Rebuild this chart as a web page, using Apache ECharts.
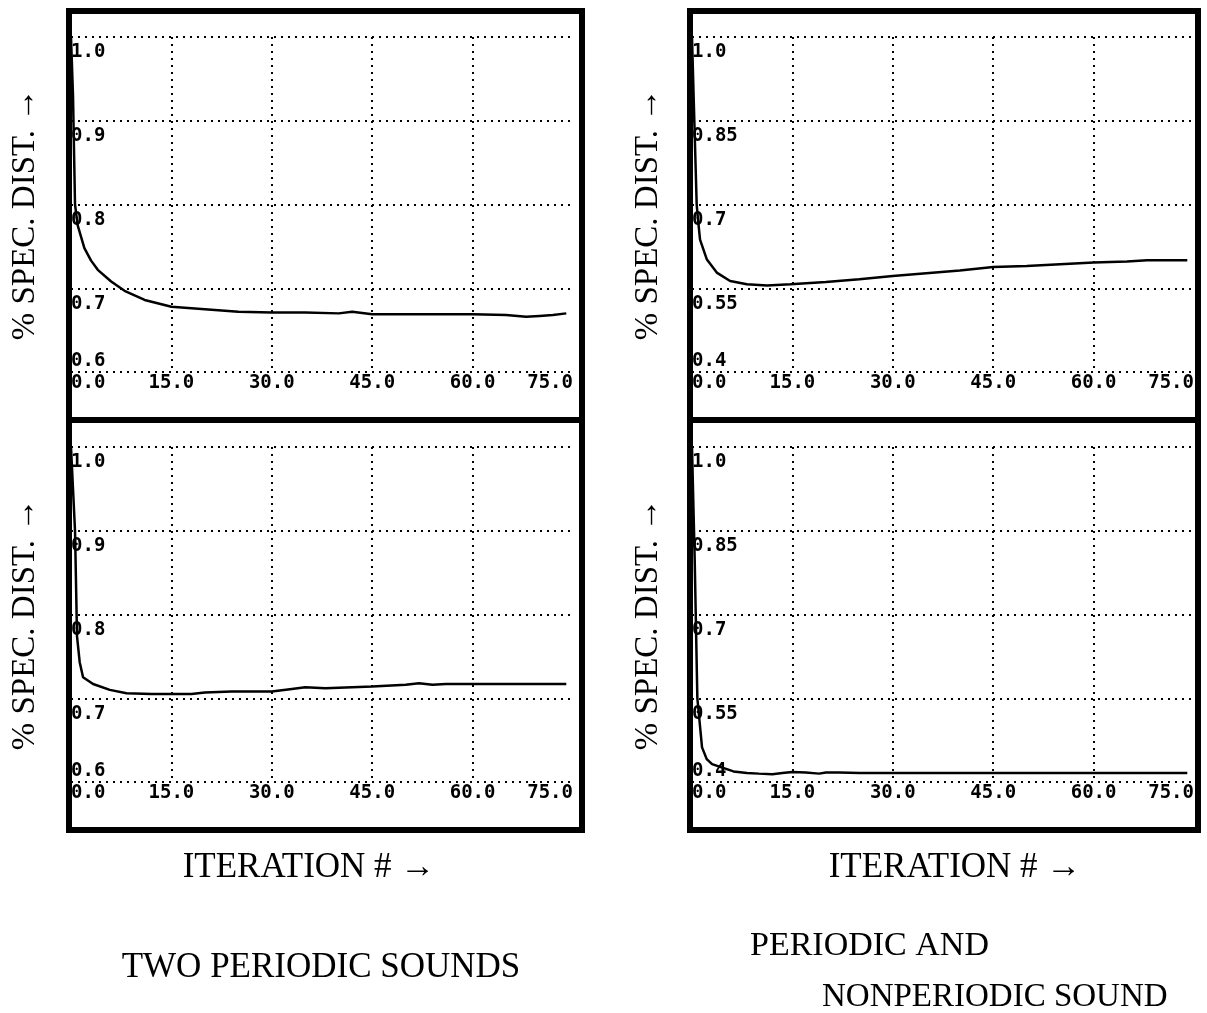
<!DOCTYPE html>
<html lang="en">

<head>
    <meta charset="UTF-8">
    <title>Spectral distance vs iteration</title>
    <style>
        html, body { margin: 0; padding: 0; background: #fff; }
        #chart { width: 1207px; height: 1013px; }
    </style>
</head>

<body>
    <div id="chart"></div>
    <script src="https://cdn.jsdelivr.net/npm/echarts@6/dist/echarts.min.js"></script>
    <script>
        // x ticks shared by all four plots
        var xTicks = [0, 15, 30, 45, 60, 75];
        var xTickLabels = ['0.0', '15.0', '30.0', '45.0', '60.0', '75.0'];

        // y ticks: left column (two periodic sounds), right column (periodic + nonperiodic)
        var yTicksLeft = [0.6, 0.7, 0.8, 0.9, 1.0];
        var yTickLabelsLeft = ['0.6', '0.7', '0.8', '0.9', '1.0'];
        var yTicksRight = [0.4, 0.55, 0.7, 0.85, 1.0];
        var yTickLabelsRight = ['0.4', '0.55', '0.7', '0.85', '1.0'];

        // top left
        var iterTL = [0, 0.3, 0.6, 1, 2, 3, 4, 6, 8, 11, 15, 20, 25, 30, 35, 40, 42, 45, 50, 55, 60, 65, 68, 70, 72, 74];
        var distTL = [1.0, 0.93, 0.80, 0.775, 0.748, 0.733, 0.722, 0.708, 0.697, 0.686, 0.678, 0.675, 0.672, 0.671, 0.671, 0.670, 0.672, 0.669, 0.669, 0.669, 0.669, 0.668, 0.666, 0.667, 0.668, 0.670];

        // bottom left
        var iterBL = [0, 0.3, 0.6, 0.9, 1.3, 1.8, 3.3, 5.8, 8.3, 12, 15, 18, 20, 24, 30, 33, 35, 38, 45, 50, 52, 54, 56, 60, 65, 70, 74];
        var distBL = [1.0, 0.95, 0.90, 0.774, 0.743, 0.725, 0.717, 0.710, 0.706, 0.705, 0.705, 0.705, 0.707, 0.708, 0.708, 0.711, 0.713, 0.712, 0.714, 0.716, 0.718, 0.716, 0.717, 0.717, 0.717, 0.717, 0.717];

        // top right
        var iterTR = [0, 0.3, 0.7, 0.9, 1.2, 2.2, 3.7, 5.7, 8.2, 11.2, 14.7, 20, 25, 30, 35, 40, 45, 50, 55, 60, 65, 68, 74];
        var distTR = [1.0, 0.87, 0.70, 0.673, 0.637, 0.602, 0.578, 0.563, 0.557, 0.555, 0.557, 0.561, 0.566, 0.572, 0.577, 0.582, 0.588, 0.590, 0.593, 0.596, 0.598, 0.600, 0.600];

        // bottom right
        var iterBR = [0, 0.4, 0.8, 1.5, 2.2, 3, 4.2, 6.2, 8.2, 10, 12, 13.5, 15, 17, 19, 20, 22, 25, 30, 40, 50, 60, 70, 74];
        var distBR = [1.0, 0.80, 0.55, 0.462, 0.441, 0.432, 0.427, 0.419, 0.416, 0.415, 0.414, 0.416, 0.418, 0.417, 0.415, 0.417, 0.417, 0.416, 0.416, 0.416, 0.416, 0.416, 0.416, 0.416];

        var monoFont = 'DejaVu Sans Mono';
        var serifFont = 'Liberation Serif';
        var dotted = { color: '#000', width: 2, type: [2, 5] };

        function pairs(xs, ys) {
            return xs.map(function (x, i) { return [x, ys[i]]; });
        }

        function lookup(ticks, labels, v) {
            for (var i = 0; i < ticks.length; i++) {
                if (Math.abs(ticks[i] - v) < 1e-6) return labels[i];
            }
            return '';
        }

        var panels = [
            { left: 71, top: 37, ticks: yTicksLeft, labels: yTickLabelsLeft, gap: 29, data: pairs(iterTL, distTL) },
            { left: 692, top: 37, ticks: yTicksRight, labels: yTickLabelsRight, gap: 27, data: pairs(iterTR, distTR) },
            { left: 71, top: 447, ticks: yTicksLeft, labels: yTickLabelsLeft, gap: 29, data: pairs(iterBL, distBL) },
            { left: 692, top: 447, ticks: yTicksRight, labels: yTickLabelsRight, gap: 27, data: pairs(iterBR, distBR) }
        ];

        var grids = [], xAxes = [], yAxes = [], series = [];

        panels.forEach(function (p, i) {
            var ymin = p.ticks[0], ymax = p.ticks[p.ticks.length - 1];
            var step = Math.round((p.ticks[1] - p.ticks[0]) * 100) / 100;
            grids.push({
                left: p.left, top: p.top, width: 502, height: 335,
                containLabel: false, outerBoundsMode: 'none'
            });
            xAxes.push({
                gridIndex: i, type: 'value', min: 0, max: 75, interval: 15,
                axisLine: { show: false }, axisTick: { show: false },
                splitLine: { show: true, showMinLine: false, showMaxLine: false, lineStyle: dotted },
                axisLabel: {
                    margin: 2, color: '#000', fontFamily: monoFont, fontWeight: 'bold', fontSize: 19,
                    alignMinLabel: 'left', alignMaxLabel: 'right',
                    formatter: function (v) { return lookup(xTicks, xTickLabels, v); }
                }
            });
            // main y axis: grid lines and all labels but the lowest
            yAxes.push({
                gridIndex: i, type: 'value', min: ymin, max: ymax, interval: step,
                axisLine: { show: false }, axisTick: { show: false },
                splitLine: { show: true, lineStyle: dotted },
                axisLabel: {
                    inside: true, margin: 0, align: 'left', verticalAlign: 'top', padding: [6, 0, 0, 0],
                    color: '#000', fontFamily: monoFont, fontWeight: 'bold', fontSize: 19,
                    formatter: function (v) {
                        if (Math.abs(v - ymin) < 1e-6) return '';
                        return lookup(p.ticks, p.labels, v);
                    }
                },
                name: '% SPEC. DIST. \u2192', nameLocation: 'middle', nameRotate: 90, nameGap: p.gap,
                nameTextStyle: { color: '#000', fontFamily: serifFont, fontSize: 33, padding: [0, 20, 0, 0] }
            });
            // lowest label sits above its grid line
            yAxes.push({
                gridIndex: i, type: 'value', min: ymin, max: ymax, interval: step, position: 'left',
                axisLine: { show: false }, axisTick: { show: false }, splitLine: { show: false },
                axisLabel: {
                    inside: true, margin: 0, align: 'left', verticalAlign: 'bottom', padding: [0, 0, 1, 0],
                    color: '#000', fontFamily: monoFont, fontWeight: 'bold', fontSize: 19,
                    formatter: function (v) {
                        return Math.abs(v - ymin) < 1e-6 ? lookup(p.ticks, p.labels, v) : '';
                    }
                }
            });
            series.push({
                type: 'line', xAxisIndex: i, yAxisIndex: i * 2,
                data: p.data, showSymbol: false, smooth: false, clip: true,
                lineStyle: { color: '#000', width: 2.5 }
            });
        });

        var frames = [
            { x: 69, y: 11, width: 513, height: 409 },
            { x: 690, y: 11, width: 508, height: 409 },
            { x: 69, y: 420, width: 513, height: 410 },
            { x: 690, y: 420, width: 508, height: 410 }
        ].map(function (r) {
            return { type: 'rect', z: 100, shape: r, style: { fill: null, stroke: '#000', lineWidth: 6 } };
        });

        function caption(text, x, y, align, size) {
            return {
                type: 'text', x: x, y: y, z: 100,
                style: { text: text, fill: '#000', font: size + 'px "' + serifFont + '"', align: align, verticalAlign: 'middle' }
            };
        }

        var chart = echarts.init(document.getElementById('chart'), null, { renderer: 'canvas' });

        chart.setOption({
            backgroundColor: '#fff',
            animation: false,
            grid: grids,
            xAxis: xAxes,
            yAxis: yAxes,
            series: series,
            graphic: frames.concat([
                caption('ITERATION # \u2192', 309, 868, 'center', 35),
                caption('ITERATION # \u2192', 955, 868, 'center', 35),
                caption('TWO PERIODIC SOUNDS', 321, 968, 'center', 35),
                caption('PERIODIC AND', 750, 946, 'left', 34),
                caption('NONPERIODIC SOUND', 822, 997, 'left', 33)
            ])
        });
    </script>
</body>

</html>
